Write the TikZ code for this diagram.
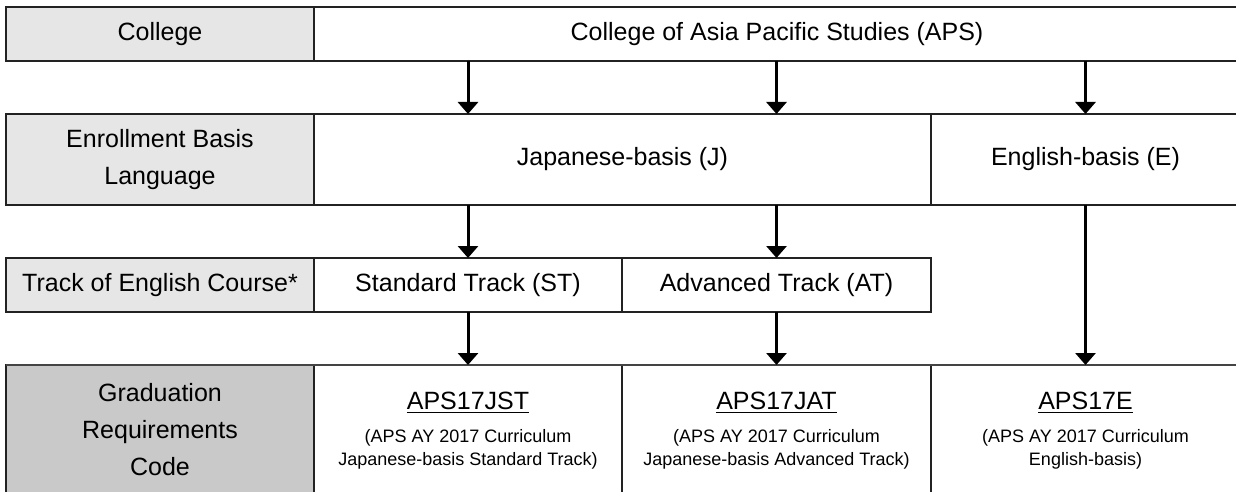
\documentclass[tikz,border=0pt]{standalone}
\usepackage{fontspec}
\setmainfont{Liberation Sans}
\usetikzlibrary{arrows.meta}
\definecolor{labfill}{HTML}{E6E6E6}
\definecolor{labdark}{HTML}{C8C9C8}
\definecolor{edge}{HTML}{222222}
\definecolor{edgedark}{HTML}{444444}
\newcommand\txtbig{\fontsize{12.5pt}{18.5pt}\selectfont}
\newcommand\txtsmall{\fontsize{9pt}{11.5pt}\selectfont}
\tikzset{
  cell/.style={draw=edge, line width=0.6pt, inner sep=0pt, outer sep=0pt,
    anchor=north west, align=center, font=\txtbig, text=black},
  lab/.style={cell, fill=labfill},
  labd/.style={cell, fill=labdark},
  codetxt/.style={inner sep=0pt, font=\txtbig, text=black},
  desctxt/.style={inner sep=0pt, font=\txtsmall, align=center, text=black},
  arr/.style={line width=1.5pt, -{Triangle[width=10pt,length=6pt]}},
}
\begin{document}
\begin{tikzpicture}[x=0.5pt,y=-0.5pt]
\useasboundingbox (0,0) rectangle (1236,492);
% row 1
\node[lab, minimum width=154pt, minimum height=27pt] (lcol) at (6,7) {College};
\node[cell, minimum width=463pt, minimum height=27pt] (aps) at (314,7) {College of Asia Pacific Studies (APS)};
% row 2
\node[lab, minimum width=154pt, minimum height=45.5pt] (lenr) at (6,114) {Enrollment Basis\\Language};
\node[cell, minimum width=308.5pt, minimum height=45.5pt] (jb) at (314,114) {Japanese-basis (J)};
\node[cell, minimum width=154.5pt, minimum height=45.5pt] (eb) at (931,114) {English-basis (E)};
% row 3
\node[lab, minimum width=154pt, minimum height=27pt] (ltrk) at (6,258) {Track of English Course*};
\node[cell, minimum width=154pt, minimum height=27pt] (st) at (314,258) {Standard Track (ST)};
\node[cell, minimum width=154.5pt, minimum height=27pt] (at) at (622,258) {Advanced Track (AT)};
% row 4
\node[labd, minimum width=154pt, minimum height=70pt] (lgrc) at (6,365) {};
\node[cell, minimum width=154pt, minimum height=70pt] (jst) at (314,365) {};
\node[cell, minimum width=154.5pt, minimum height=70pt] (jat) at (622,365) {};
\node[cell, minimum width=154.5pt, minimum height=70pt] (ecd) at (931,365) {};
\draw[edgedark, line width=1pt] (lgrc.north west) -- (ecd.north east);
% row 4 texts
\node[desctxt, font=\txtbig, text width=150pt, align=center] (tgrc) at (lgrc.north |- 0,430) {Graduation\\[0.0pt]Requirements\\Code};
\node[codetxt] (cjst) at (jst.north |- 0,403) {\underline{APS17JST}};
\node[desctxt] (djst) at (jst.north |- 0,449) {(APS AY 2017 Curriculum\\Japanese-basis Standard Track)};
\node[codetxt] (cjat) at (jat.north |- 0,403) {\underline{APS17JAT}};
\node[desctxt] (djat) at (jat.north |- 0,449) {(APS AY 2017 Curriculum\\Japanese-basis Advanced Track)};
\node[codetxt] (cecd) at (ecd.north |- 0,403) {\underline{APS17E}};
\node[desctxt] (decd) at (ecd.north |- 0,449) {(APS AY 2017 Curriculum\\English-basis)};
% arrows
\draw[arr] (st.north |- aps.south) -- (st.north |- jb.north);
\draw[arr] (at.north |- aps.south) -- (at.north |- jb.north);
\draw[arr] (eb.north |- aps.south) -- (eb.north);
\draw[arr] (st.north |- jb.south) -- (st.north);
\draw[arr] (at.north |- jb.south) -- (at.north);
\draw[arr] (st.south) -- (jst.north);
\draw[arr] (at.south) -- (jat.north);
\draw[arr] (eb.south) -- (ecd.north);
\end{tikzpicture}
\end{document}
